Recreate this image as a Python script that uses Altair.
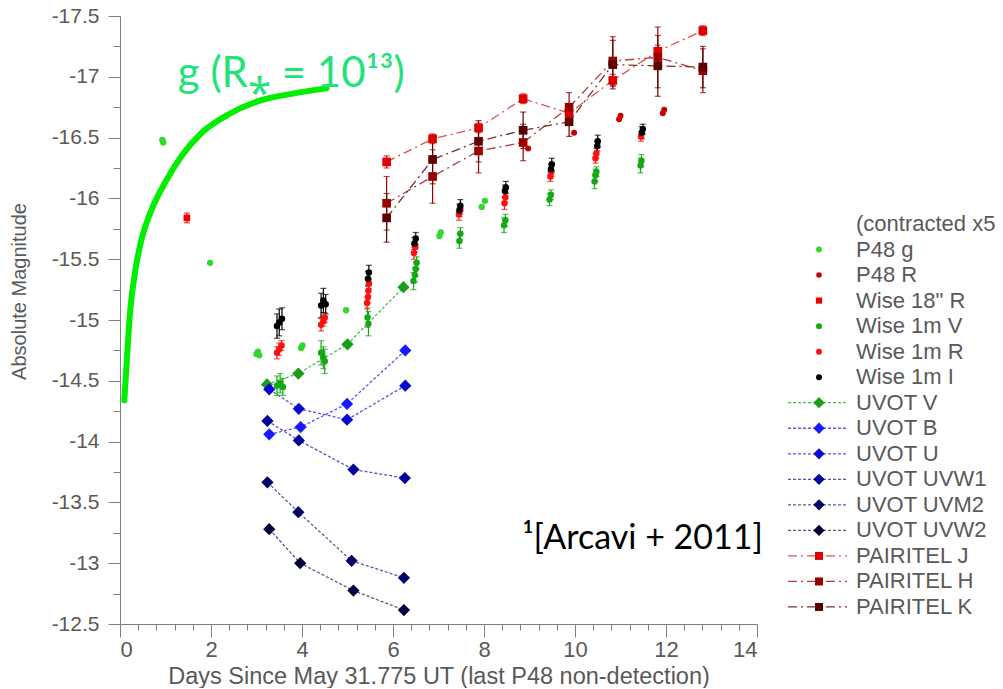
import altair as alt
import pandas as pd

# ---------------- data ----------------
model_day = [0.095, 0.147, 0.22, 0.33, 0.477, 0.697, 0.99, 1.356, 1.796, 2.38, 3.04, 3.77, 4.54]
model_mag = [-14.34, -14.65, -15.06, -15.39, -15.67, -15.91, -16.13, -16.35, -16.54, -16.69, -16.80, -16.86, -16.905]

p48g_day = [0.93, 0.95, 1.98, 3.00, 3.03, 3.06, 3.98, 4.01, 4.97, 7.02, 7.05, 7.95, 8.02]
p48g_mag = [-16.48, -16.46, -15.47, -14.72, -14.74, -14.71, -14.77, -14.79, -15.08, -15.69, -15.72, -15.93, -15.98]

p48r_day = [8.97, 9.98, 10.97, 11.00, 11.93, 11.96]
p48r_mag = [-16.41, -16.54, -16.65, -16.68, -16.70, -16.73]

w18r_day = [1.47]
w18r_mag = [-15.84]
w18r_err = [0.04]

wv_day = [3.45, 3.52, 3.58, 4.42, 4.47, 4.50, 5.44, 5.46, 6.45, 6.48, 6.50, 6.52, 7.46, 7.48, 8.44, 8.47, 9.44, 9.47, 10.43, 10.45, 10.47, 11.44, 11.46]
wv_mag = [-14.46, -14.48, -14.45, -14.73, -14.69, -14.66, -15.02, -14.97, -15.32, -15.37, -15.42, -15.47, -15.65, -15.71, -15.78, -15.82, -15.99, -16.03, -16.14, -16.19, -16.22, -16.27, -16.31]
wv_err = [0.08, 0.08, 0.07, 0.10, 0.09, 0.10, 0.08, 0.10, 0.07, 0.06, 0.06, 0.05, 0.06, 0.05, 0.06, 0.05, 0.05, 0.04, 0.06, 0.05, 0.04, 0.06, 0.05]

wr_day = [3.45, 3.50, 3.55, 4.42, 4.47, 4.50, 5.43, 5.45, 5.46, 5.47, 6.46, 6.49, 7.45, 7.48, 8.45, 8.47, 9.46, 9.48, 10.45, 10.47, 11.45]
wr_mag = [-14.73, -14.76, -14.79, -14.96, -14.99, -15.02, -15.14, -15.19, -15.24, -15.30, -15.55, -15.60, -15.87, -15.91, -15.96, -16.01, -16.18, -16.22, -16.33, -16.37, -16.51]
wr_err = [0.05, 0.05, 0.04, 0.05, 0.04, 0.04, 0.05, 0.05, 0.04, 0.04, 0.05, 0.04, 0.05, 0.04, 0.05, 0.04, 0.04, 0.04, 0.04, 0.04, 0.04]

wi_day = [3.45, 3.50, 3.56, 4.42, 4.47, 4.52, 5.45, 5.47, 6.47, 6.50, 7.46, 7.48, 8.46, 8.48, 9.47, 9.49, 10.49, 10.50, 11.47, 11.49]
wi_mag = [-14.95, -14.98, -15.01, -15.12, -15.16, -15.13, -15.34, -15.39, -15.63, -15.67, -15.90, -15.94, -16.06, -16.09, -16.24, -16.28, -16.43, -16.47, -16.54, -16.57]
wi_err = [0.10, 0.11, 0.09, 0.10, 0.10, 0.08, 0.06, 0.06, 0.05, 0.05, 0.05, 0.05, 0.05, 0.05, 0.04, 0.05, 0.04, 0.05, 0.05, 0.04]

uv_v_day = [3.23, 3.92, 5.00, 6.23]
uv_v_mag = [-14.47, -14.56, -14.80, -15.27]
uv_b_day = [3.28, 3.97, 4.99, 6.27]
uv_b_mag = [-14.06, -14.12, -14.31, -14.75]
uv_u_day = [3.28, 3.93, 4.99, 6.27]
uv_u_mag = [-14.43, -14.27, -14.18, -14.46]
uv_w1_day = [3.24, 3.93, 5.13, 6.26]
uv_w1_mag = [-14.17, -14.01, -13.77, -13.70]
uv_m2_day = [3.24, 3.92, 5.09, 6.24]
uv_m2_mag = [-13.665, -13.42, -13.02, -12.88]
uv_w2_day = [3.28, 3.96, 5.13, 6.24]
uv_w2_mag = [-13.28, -13.00, -12.775, -12.615]

pt_day = [5.86, 6.87, 7.88, 8.86, 9.87, 10.83, 11.82, 12.81]
pt_j_mag = [-16.30, -16.49, -16.58, -16.82, -16.70, -16.97, -17.21, -17.38]
pt_j_err = [0.05, 0.04, 0.04, 0.04, 0.04, 0.05, 0.05, 0.04]
pt_h_mag = [-15.96, -16.18, -16.39, -16.46, -16.75, -17.13, -17.16, -17.05]
pt_h_err = [0.22, 0.22, 0.18, 0.15, 0.12, 0.20, 0.25, 0.18]
pt_k_mag = [-15.84, -16.32, -16.47, -16.56, -16.63, -17.10, -17.09, -17.08]
pt_k_err = [0.20, 0.20, 0.17, 0.15, 0.12, 0.20, 0.25, 0.17]

series = ["P48 g", "P48 R", 'Wise 18" R', "Wise 1m V", "Wise 1m R", "Wise 1m I",
          "UVOT V", "UVOT B", "UVOT U", "UVOT UVW1", "UVOT UVM2", "UVOT UVW2",
          "PAIRITEL J", "PAIRITEL H", "PAIRITEL K"]
colors = ["#2fd82f", "#cc0000", "#ee0000", "#14a814", "#ff1010", "#000000",
          "#1c9c1c", "#1a1aff", "#0808d0", "#00009a", "#000068", "#000038",
          "#dd0000", "#990000", "#5c0000"]
shapes = ["circle", "circle", "square", "circle", "circle", "circle",
          "diamond", "diamond", "diamond", "diamond", "diamond", "diamond",
          "square", "square", "square"]
sizes = [40, 36, 45, 42, 42, 42, 150, 150, 150, 150, 150, 150, 75, 75, 75]

line_series = series[6:]
line_colors = ["#44c044", "#5a5aee", "#5555e0", "#5555b8", "#5a5a98", "#5a5a78",
               "#e05050", "#b04040", "#7a3030"]
line_dashes = [[3, 2]] * 6 + [[9, 4, 2, 4]] * 3

legend_labels = ["(contracted x5"] + series

ann_text = ["g (R\u204e = 10\u00b9\u00b3)", "\u00b9[Arcavi + 2011]"]
ann_day = [1.27, 8.84]
ann_mag = [-17.02, -13.20]
ann_color = ["#22e27a", "#000000"]
ann_size = [42, 34]

x_ticks = [round(0.4 * i, 6) for i in range(36)]
y_ticks = [round(-17.5 + 0.25 * i, 6) for i in range(21)]

# ---------------- tables ----------------
size_of = dict(zip(series, sizes))
shape_of = dict(zip(series, shapes))


def block(name, day, mag, err=None):
    return pd.DataFrame({"series": name, "day": day, "mag": mag,
                         "err": err if err is not None else [0.0] * len(day)})


obs = pd.concat([
    block("P48 g", p48g_day, p48g_mag),
    block('Wise 18" R', w18r_day, w18r_mag, w18r_err),
    block("Wise 1m V", wv_day, wv_mag, wv_err),
    block("Wise 1m R", wr_day, wr_mag, wr_err),
    block("Wise 1m I", wi_day, wi_mag, wi_err),
    block("P48 R", p48r_day, p48r_mag),
    block("UVOT V", uv_v_day, uv_v_mag),
    block("UVOT B", uv_b_day, uv_b_mag),
    block("UVOT U", uv_u_day, uv_u_mag),
    block("UVOT UVW1", uv_w1_day, uv_w1_mag),
    block("UVOT UVM2", uv_m2_day, uv_m2_mag),
    block("UVOT UVW2", uv_w2_day, uv_w2_mag),
    block("PAIRITEL J", pt_day, pt_j_mag, pt_j_err),
    block("PAIRITEL H", pt_day, pt_h_mag, pt_h_err),
    block("PAIRITEL K", pt_day, pt_k_mag, pt_k_err),
], ignore_index=True)
obs["order"] = range(len(obs))
obs["sz"] = obs["series"].map(size_of)
obs["shp"] = obs["series"].map(shape_of)

errs = obs[obs["err"] > 0].copy()
errs["lo"] = errs["mag"] - errs["err"]
errs["hi"] = errs["mag"] + errs["err"]

lines = obs[obs["series"].isin(line_series)].copy()
model = pd.DataFrame({"day": model_day, "mag": model_mag})
ann = pd.DataFrame({"text": ann_text, "day": ann_day, "mag": ann_mag,
                    "c": ann_color, "fs": ann_size})

# ---------------- scales / axes ----------------
GRAY = "#7f7f7f"
LBL = "#595959"
FONT = "Liberation Sans"

xscale = alt.Scale(domain=[0, 14], nice=False, zero=False)
yscale = alt.Scale(domain=[-17.5, -12.5], nice=False, zero=False, reverse=True)

xmajor = "abs(datum.value/2 - round(datum.value/2)) < 0.0001"
ymajor = "abs(datum.value*2 - round(datum.value*2)) < 0.0001"

xaxis = alt.Axis(values=x_ticks, grid=False, domainColor=GRAY, tickColor=GRAY,
                 tickSize={"condition": {"test": xmajor, "value": 13}, "value": 6},
                 labelExpr=f"{xmajor} ? format(datum.value, '') : ''",
                 labelFont=FONT, labelFontSize=22, labelColor=LBL, labelPadding=2,
                 title="Days Since May 31.775 UT (last P48 non-detection)",
                 titleFont=FONT, titleFontSize=23.5, titleFontWeight="normal",
                 titleColor=LBL, titlePadding=4)
yaxis = alt.Axis(values=y_ticks, grid=False, domainColor=GRAY, tickColor=GRAY,
                 tickSize={"condition": {"test": ymajor, "value": 12}, "value": 7},
                 labelExpr=f"{ymajor} ? ('-' + format(abs(datum.value), '')) : ''",
                 labelFont=FONT, labelFontSize=21, labelColor=LBL, labelPadding=9,
                 title="Absolute Magnitude", titleFont=FONT, titleFontSize=20,
                 titleFontWeight="normal", titleColor=LBL, titlePadding=22, titleY=275)

X = alt.X("day:Q", scale=xscale, axis=xaxis)
Y = alt.Y("mag:Q", scale=yscale, axis=yaxis)

color = alt.Color("series:N", scale=alt.Scale(domain=series, range=colors), legend=None)
stroke = alt.Stroke("series:N", scale=alt.Scale(domain=line_series, range=line_colors), legend=None)
dash = alt.StrokeDash("series:N", scale=alt.Scale(domain=line_series, range=line_dashes), legend=None)
shape = alt.Shape("shp:N", scale=None)
size = alt.Size("sz:Q", scale=None)

model_layer = alt.Chart(model).mark_line(color="#00ee00", strokeWidth=6,
                                         interpolate="monotone", strokeCap="round").encode(x=X, y=Y)

line_layer = alt.Chart(lines).mark_line(strokeWidth=1.3).encode(
    x=X, y=Y, stroke=stroke, strokeDash=dash, detail="series:N", order="day:Q")

err_layer = alt.Chart(errs).mark_errorbar(ticks={"size": 6}, thickness=1.2).encode(
    x=X, y=alt.Y("lo:Q", scale=yscale, axis=yaxis), y2="hi:Q", color=color)

pt_layer = alt.Chart(obs).mark_point(filled=True, opacity=1).encode(
    x=X, y=Y, color=color, shape=shape, size=size, order="order:Q")

ann_layer = alt.Chart(ann).mark_text(align="left", baseline="middle", font="Lato").encode(
    x=X, y=Y, text="text:N",
    color=alt.Color("c:N", scale=None),
    size=alt.Size("fs:Q", scale=None))

main = alt.layer(model_layer, line_layer, err_layer, pt_layer, ann_layer).properties(
    width=637, height=608)

# ---------------- legend panel ----------------
leg = pd.DataFrame({"label": legend_labels, "row": list(range(len(legend_labels)))})
leg["series"] = [""] + series
leg_sym = leg[leg["series"] != ""].copy()
leg_sym["sz"] = leg_sym["series"].map(size_of) * 0.85
leg_sym["shp"] = leg_sym["series"].map(shape_of)
leg_line = leg[leg["series"].isin(line_series)]

LY = alt.Y("row:Q", scale=alt.Scale(domain=[-8.147, 15.667], reverse=True, nice=False, zero=False), axis=None)

leg_lines = alt.Chart(leg_line).mark_rule(strokeWidth=1.3).encode(
    x=alt.value(13), x2=alt.value(72), y=LY, stroke=stroke, strokeDash=dash)
leg_pts = alt.Chart(leg_sym).mark_point(filled=True, opacity=1).encode(
    x=alt.value(44), y=LY, color=color, shape=shape, size=size)
leg_txt = alt.Chart(leg).mark_text(align="left", baseline="middle", font=FONT,
                                   fontSize=22, color=LBL, limit=140,
                                   ellipsis="\u200b").encode(
    x=alt.value(81), y=LY, text="label:N")

legend_panel = alt.layer(leg_lines, leg_pts, leg_txt).properties(width=221, height=608)

chart = alt.hconcat(main, legend_panel, spacing=18, bounds="flush").resolve_scale(
    color="shared", stroke="shared", strokeDash="shared"
).properties(padding={"left": 9, "top": 5, "right": 0, "bottom": 0}).configure_view(stroke=None)

chart.save("out.html", embed_options={"renderer": "svg", "actions": False})
